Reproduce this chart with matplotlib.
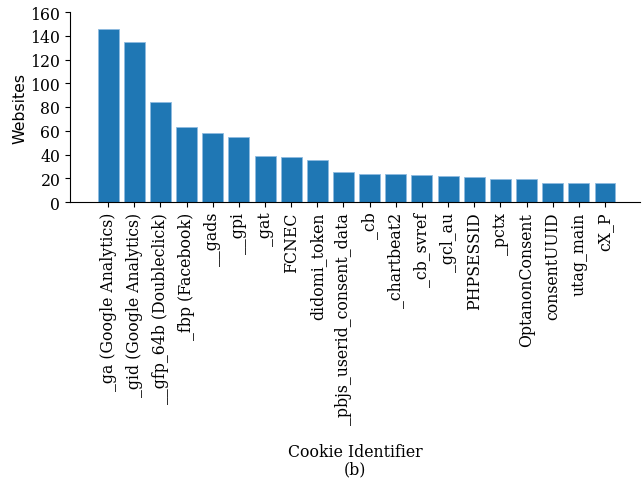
import matplotlib
matplotlib.use("Agg")
import matplotlib.pyplot as plt

cookies = ["_ga (Google Analytics)", "_gid (Google Analytics)", "__gfp_64b (Doubleclick)",
           "_fbp (Facebook)", "__gads", "__gpi", "_gat", "FCNEC", "didomi_token",
           "_pbjs_userid_consent_data", "_cb", "_chartbeat2", "_cb_svref", "_gcl_au",
           "PHPSESSID", "_pctx", "OptanonConsent", "consentUUID", "utag_main", "cX_P"]
websites = [146, 135, 84, 63, 58, 55, 39, 38, 35, 25, 24, 24, 23, 22, 21, 19, 19, 16, 16, 16]

FS = 11.3
fig = plt.figure(figsize=(6.44, 4.81), dpi=100)
ax = fig.add_axes([70/644, 1 - 203/481, 570/644, 190/481])

x = list(range(len(cookies)))
ax.bar(x, websites, width=0.8, color="#1f77b4", edgecolor="#8fbbe0", linewidth=0.6)
ax.set_xlim(-1.46, 20.34)
ax.set_ylim(0, 160)
ax.set_yticks(range(0, 161, 20))
ax.set_xticks(x)
ax.set_xticklabels(cookies, rotation=90, family="DejaVu Serif", fontsize=FS)
for lbl in ax.get_yticklabels():
    lbl.set_family("DejaVu Serif")
    lbl.set_fontsize(FS)
ax.spines["top"].set_visible(False)
ax.spines["right"].set_visible(False)
ax.set_ylabel("Websites", family="DejaVu Sans", fontsize=FS)
ax.yaxis.set_label_coords(-0.075, 0.5)

fig.text(355/644, 1 - 461/481, "Cookie Identifier\n(b)", ha="center", va="center",
         family="DejaVu Serif", fontsize=FS, linespacing=1.0)

fig.savefig("out.png", dpi=100)
